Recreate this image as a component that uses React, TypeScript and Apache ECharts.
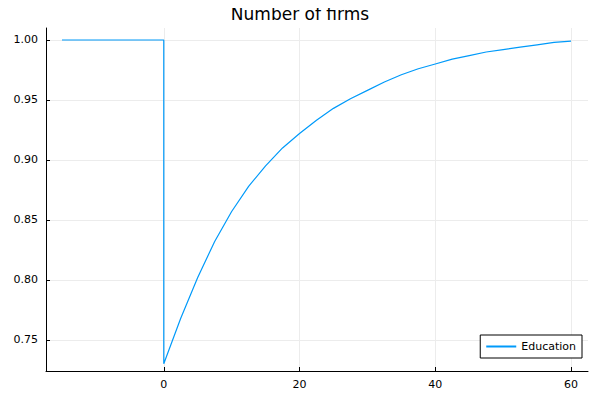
import * as echarts from 'echarts';
import { useEffect, useRef } from 'react';

const times = [-15, 0, 0, 2.5, 5, 7.5, 10, 12.5, 15, 17.5, 20, 22.5, 25, 27.5, 30, 32.5, 35, 37.5, 40, 42.5, 45, 47.5, 50, 52.5, 55, 57.5, 60];
const firms = [1.0, 1.0, 0.730, 0.768, 0.802, 0.832, 0.857, 0.878, 0.895, 0.910, 0.922, 0.933, 0.943, 0.951, 0.958, 0.965, 0.971, 0.976, 0.980, 0.984, 0.987, 0.990, 0.992, 0.994, 0.996, 0.998, 0.999];
const xTicks = [0, 20, 40, 60];
const yTicks = [0.75, 0.8, 0.85, 0.9, 0.95, 1.0];

const App = () => {
    const chartDiv = useRef<HTMLDivElement>(null);

    useEffect(() => {
        const chart = echarts.init(chartDiv.current, null, { renderer: 'svg' });
        const font = 'DejaVu Sans';
        chart.setOption({
            animation: false,
            textStyle: { fontFamily: font },
            title: {
                text: 'Number of firms',
                left: 'center',
                top: 0,
                textStyle: { fontSize: 17, fontWeight: 'normal', color: '#000', fontFamily: font }
            },
            grid: { left: 46, right: 12, top: 28, bottom: 29 },
            legend: {
                right: 18,
                bottom: 42,
                orient: 'vertical',
                backgroundColor: '#fff',
                borderColor: '#000',
                borderWidth: 1,
                borderRadius: 0,
                padding: [6, 6, 6, 6],
                itemWidth: 30,
                itemHeight: 2,
                icon: 'rect',
                textStyle: { fontSize: 11, color: '#000' },
                data: ['Education']
            },
            xAxis: {
                type: 'value',
                min: -17.35,
                max: 62.5,
                axisLine: { show: true, onZero: false, lineStyle: { color: '#000' } },
                axisTick: { show: true, customValues: xTicks, inside: true, length: 4, lineStyle: { color: '#000' } },
                axisLabel: { customValues: xTicks, color: '#000', fontSize: 11 },
                splitLine: { show: true, lineStyle: { color: '#ececec' } }
            },
            yAxis: {
                type: 'value',
                min: 0.724,
                max: 1.01,
                axisLine: { show: true, onZero: false, lineStyle: { color: '#000' } },
                axisTick: { show: true, customValues: yTicks, inside: true, length: 4, lineStyle: { color: '#000' } },
                axisLabel: {
                    customValues: yTicks,
                    color: '#000',
                    fontSize: 11,
                    formatter: (v: number) => v.toFixed(2)
                },
                splitLine: { show: true, lineStyle: { color: '#ececec' } }
            },
            series: [
                {
                    name: 'Education',
                    type: 'line',
                    data: times.map((t, i) => [t, firms[i]]),
                    showSymbol: false,
                    color: '#009AFA',
                    lineStyle: { width: 1.2 }
                }
            ]
        });
        return () => {
            chart.dispose();
        };
    }, []);

    return <div ref={chartDiv} style={{ width: '600px', height: '400px', margin: '-8px' }} />;
};

export default App;
